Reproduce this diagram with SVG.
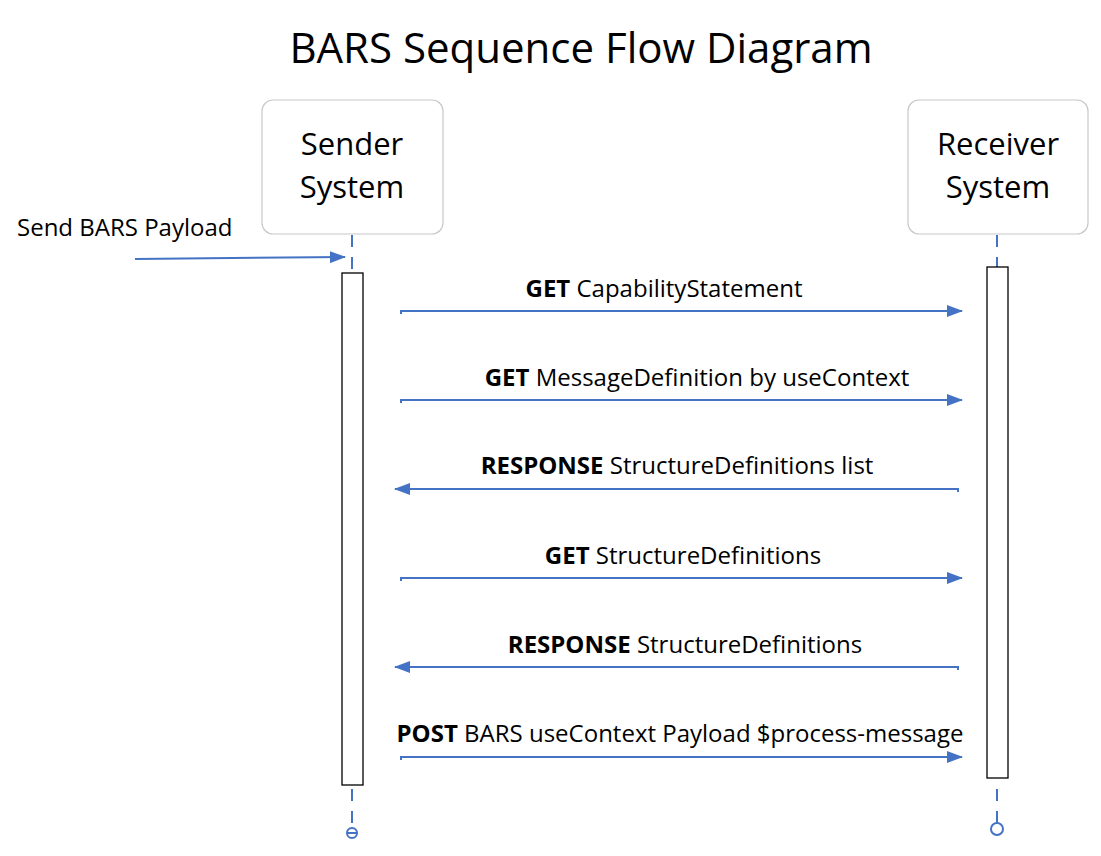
<svg xmlns="http://www.w3.org/2000/svg" width="1101" height="856" viewBox="0 0 1101 856">
<defs>
<marker id="ah2" markerWidth="16" markerHeight="12" refX="15" refY="6" orient="auto" markerUnits="userSpaceOnUse" viewBox="0 0 16 12">
<path d="M0,0 L16,6 L0,12 z" fill="#4472C4"/>
</marker>
</defs>
<style>
text{font-family:"Open Sans","Noto Sans",sans-serif;fill:#000}
.box{fill:#fff;stroke:#c8c8c8;stroke-width:1.2}
.life{stroke:#4472C4;stroke-width:2;stroke-dasharray:12 10;fill:none}
.act{fill:#fff;stroke:#000;stroke-width:1.3}
.msg{stroke:#4472C4;stroke-width:2;fill:none;marker-end:url(#ah2)}
.lbl{font-size:24px}
.node{font-size:31px}
</style>
<rect width="1101" height="856" fill="#fff"/>
<text x="581" y="63" text-anchor="middle" font-size="42">BARS Sequence Flow Diagram</text>

<g id="sender">
<rect class="box" x="262" y="100" width="181" height="134" rx="11"/>
<text class="node" x="352" y="155" text-anchor="middle">Sender</text>
<text class="node" x="352" y="198" text-anchor="middle">System</text>
</g>
<g id="receiver">
<rect class="box" x="908" y="100" width="180" height="134" rx="11"/>
<text class="node" x="998" y="155" text-anchor="middle">Receiver</text>
<text class="node" x="998" y="198" text-anchor="middle">System</text>
</g>

<g id="lifelines">
<line class="life" x1="352" y1="235" x2="352" y2="273"/>
<line class="life" x1="352" y1="789" x2="352" y2="828"/>
<circle cx="352" cy="833" r="5" fill="none" stroke="#4472C4" stroke-width="2"/>
<line x1="347" y1="833" x2="357" y2="833" stroke="#4472C4" stroke-width="2"/>
<line class="life" x1="997" y1="235" x2="997" y2="267"/>
<line class="life" x1="997" y1="789" x2="997" y2="823"/>
<circle cx="997" cy="829" r="6" fill="none" stroke="#4472C4" stroke-width="2"/>
</g>

<g id="sender-activation"><rect class="act" x="342" y="273" width="21" height="512"/></g>
<g id="receiver-activation"><rect class="act" x="987" y="267" width="21" height="511"/></g>

<g id="connectors">
<line class="msg" x1="135" y1="259" x2="345" y2="257"/>
<path class="msg" d="M401,314 V311 H962"/>
<path class="msg" d="M401,403 V400 H962"/>
<path class="msg" d="M958,492 V489 H395"/>
<path class="msg" d="M401,581 V578 H962"/>
<path class="msg" d="M958,670 V667 H395"/>
<path class="msg" d="M401,760 V757 H962"/>
</g>

<g id="labels">
<text x="17" y="236" font-size="24">Send BARS Payload</text>
<text class="lbl" x="664" y="297" text-anchor="middle"><tspan font-weight="bold">GET</tspan> CapabilityStatement</text>
<text class="lbl" x="697" y="386" text-anchor="middle"><tspan font-weight="bold">GET</tspan> MessageDefinition by useContext</text>
<text class="lbl" x="677" y="474" text-anchor="middle"><tspan font-weight="bold">RESPONSE</tspan> StructureDefinitions list</text>
<text class="lbl" x="683" y="564" text-anchor="middle"><tspan font-weight="bold">GET</tspan> StructureDefinitions</text>
<text class="lbl" x="685" y="653" text-anchor="middle"><tspan font-weight="bold">RESPONSE</tspan> StructureDefinitions</text>
<text class="lbl" x="680" y="742" text-anchor="middle"><tspan font-weight="bold">POST</tspan> BARS useContext Payload $process-message</text>
</g>
</svg>
